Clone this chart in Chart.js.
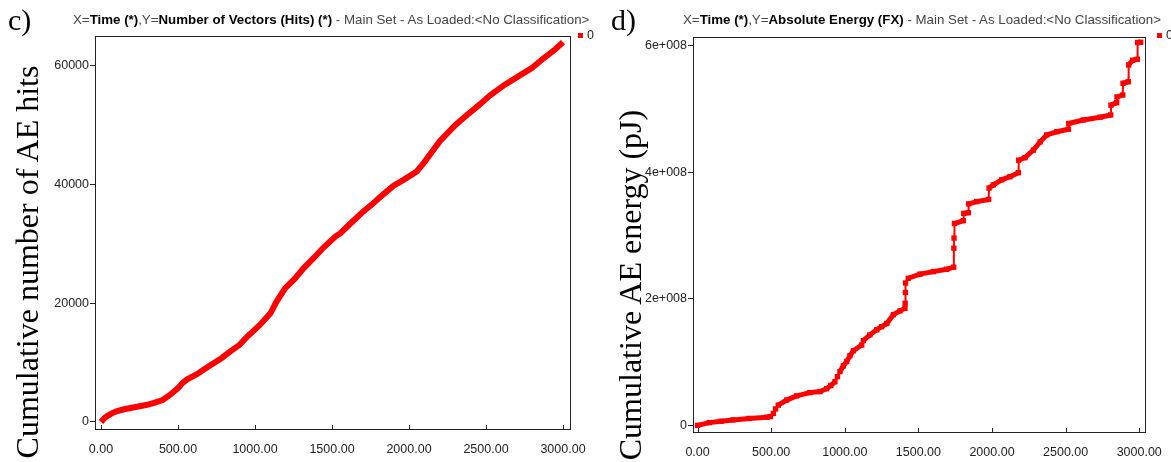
<!DOCTYPE html>
<html>
<head>
    <title>Cumulative AE hits and energy</title>
    <style>
        body {
            margin: 0;
            width: 1171px;
            height: 462px;
            overflow: hidden;
            position: relative;
            background-color: #fff;
            font-family: "Liberation Sans", Arial, sans-serif;
        }

        .box {
            position: absolute;
            top: 0;
            height: 462px;
        }

        .panel-tag {
            position: absolute;
            font-family: "Liberation Serif", "Times New Roman", serif;
            font-size: 30px;
            line-height: 30px;
            color: #000;
        }

        .head {
            position: absolute;
            top: 13px;
            font-size: 13.3px;
            line-height: 14px;
            color: #444;
            white-space: nowrap;
        }

        .head b {
            color: #000;
        }

        .ytitle {
            position: absolute;
            font-family: "Liberation Serif", "Times New Roman", serif;
            font-size: 32px;
            white-space: nowrap;
            transform: translate(-50%, -50%) rotate(-90deg);
        }

        .key {
            position: absolute;
            width: 5px;
            height: 5px;
            background-color: #ff0000;
        }

        .keytext {
            position: absolute;
            font-size: 12.5px;
            line-height: 14px;
            color: #222;
        }
    </style>
    <script src="https://cdn.jsdelivr.net/npm/chart.js"></script>
</head>
<body>
    <div class="box" style="left:0; width:600px;"><canvas id="hitsChart"></canvas></div>
    <div class="box" style="left:600px; width:571px;"><canvas id="energyChart"></canvas></div>

    <div class="panel-tag" style="left:8px; top:5px;">c)</div>
    <div class="panel-tag" style="left:611px; top:5px;">d)</div>

    <div class="head" style="left:73px;">X=<b>Time (*)</b>,Y=<b>Number of Vectors (Hits) (*)</b> - Main Set - As Loaded:&lt;No Classification&gt;</div>
    <div class="head" style="left:683px;">X=<b>Time (*)</b>,Y=<b>Absolute Energy (FX)</b> - Main Set - As Loaded:&lt;No Classification&gt;</div>

    <div class="key" style="left:578px; top:33px;"></div>
    <div class="keytext" style="left:587px; top:28px;">0</div>
    <div class="key" style="left:1157px; top:33px;"></div>
    <div class="keytext" style="left:1166px; top:28px;">0</div>

    <div class="ytitle" style="left:27px; top:262px;">Cumulative number of AE hits</div>
    <div class="ytitle" style="left:630px; top:285px;">Cumulative AE energy (pJ)</div>

    <script>
        // panel c: cumulative hits
        var hitsTime = [0, 20, 40, 70, 100, 150, 200, 250, 300, 350, 400, 450, 500, 530, 560, 620, 700, 780, 840, 900,
            950, 1030, 1100, 1140, 1195, 1260, 1315, 1380, 1445, 1520, 1555, 1630, 1700, 1770, 1835, 1900, 1965, 2050,
            2100, 2200, 2300, 2375, 2450, 2525, 2620, 2720, 2800, 2870, 2950, 3000];
        var hits = [0, 600, 1000, 1450, 1800, 2150, 2400, 2650, 2900, 3250, 3700, 4600, 5700, 6600, 7200, 8000, 9400,
            10700, 11900, 13000, 14400, 16300, 18300, 20300, 22500, 24200, 25900, 27600, 29400, 31200, 31800, 33700,
            35400, 36900, 38400, 39800, 40800, 42200, 43800, 47300, 50000, 51700, 53300, 55000, 56800, 58400, 59700,
            61200, 62800, 64000];

        // panel d: cumulative absolute energy (pJ)
        var energyTime = [0, 80, 160, 240, 350, 470, 495, 515, 530, 548, 605, 673, 763, 831, 877, 905, 933, 950, 967,
            990, 1013, 1035, 1058, 1115, 1126, 1170, 1217, 1250, 1285, 1330, 1375, 1409, 1410, 1412, 1413, 1431, 1511,
            1601, 1692, 1740, 1741, 1742, 1745, 1805, 1808, 1839, 1841, 1896, 1977, 1980, 2009, 2066, 2122, 2179, 2181,
            2224, 2281, 2327, 2372, 2440, 2519, 2521, 2620, 2734, 2806, 2808, 2847, 2849, 2888, 2890, 2926, 2928, 2956,
            2987, 2989, 3010];
        var energy = [0, 4.4e6, 6.5e6, 8.7e6, 11e6, 13e6, 14e6, 19e6, 26e6, 32e6, 40e6, 46.6e6, 51.8e6, 53.4e6, 58e6,
            63e6, 69e6, 77e6, 85e6, 94e6, 101e6, 110e6, 118e6, 127e6, 134e6, 143e6, 151e6, 156e6, 161e6, 175e6, 181e6,
            185e6, 193e6, 210e6, 225e6, 232.5e6, 239e6, 243e6, 246.7e6, 250e6, 280e6, 296e6, 319e6, 323.5e6, 335e6,
            336e6, 350e6, 353.6e6, 357e6, 375e6, 380e6, 388e6, 393e6, 399.4e6, 419e6, 423e6, 435e6, 448e6, 459e6,
            464e6, 468e6, 477e6, 482.6e6, 487e6, 490.5e6, 506e6, 510e6, 519e6, 522e6, 540.6e6, 543e6, 569.5e6, 577e6,
            578.5e6, 605e6, 605.4e6];

        var timeTicks = [0, 500, 1000, 1500, 2000, 2500, 3000];
        var timeLabels = ['0.00', '500.00', '1000.00', '1500.00', '2000.00', '2500.00', '3000.00'];
        var hitsTicks = [0, 20000, 40000, 60000];
        var hitsLabels = ['0', '20000', '40000', '60000'];
        var energyTicks = [0, 2e8, 4e8, 6e8];
        var energyLabels = ['0', '2e+008', '4e+008', '6e+008'];

        var tickFont = { family: '"Liberation Sans", Arial, sans-serif', size: 12.5 };

        // plot frame and the little inward ticks on the time axis
        var framePlugin = {
            id: 'frame',
            beforeDatasetsDraw: function(chart) {
                var ctx = chart.ctx;
                var a = chart.chartArea;
                var x = chart.scales.x;
                ctx.save();
                ctx.strokeStyle = '#222';
                ctx.lineWidth = 1;
                ctx.strokeRect(a.left + 0.5, a.top + 0.5, a.right - a.left - 1, a.bottom - a.top - 1);
                ctx.beginPath();
                x.ticks.forEach(function(t) {
                    var px = Math.round(x.getPixelForValue(t.value)) + 0.5;
                    ctx.moveTo(px, a.bottom);
                    ctx.lineTo(px, a.bottom - 5);
                });
                ctx.stroke();
                ctx.restore();
            }
        };

        function makeChart(canvasId, times, values, opts) {
            var points = times.map(function(t, i) { return { x: t, y: values[i] }; });
            return new Chart(document.getElementById(canvasId), {
                type: 'line',
                data: {
                    datasets: [{
                        label: '0',
                        data: points,
                        borderColor: '#ff0000',
                        backgroundColor: '#ff0000',
                        borderWidth: opts.lineWidth,
                        pointStyle: 'rect',
                        pointRadius: opts.pointRadius,
                        pointBorderWidth: 0,
                        tension: 0,
                        segment: opts.segment
                    }]
                },
                options: {
                    responsive: false,
                    animation: false,
                    layout: { padding: opts.padding },
                    plugins: { legend: { display: false }, tooltip: { enabled: false } },
                    scales: {
                        x: {
                            type: 'linear',
                            min: opts.xMin,
                            max: opts.xMax,
                            grid: { display: false },
                            border: { display: false },
                            afterBuildTicks: function(scale) {
                                scale.ticks = timeTicks.map(function(v) { return { value: v }; });
                            },
                            afterFit: function(scale) { scale.height = opts.xHeight; },
                            ticks: {
                                color: '#222',
                                font: tickFont,
                                padding: 4,
                                maxRotation: 0,
                                autoSkip: false,
                                callback: function(v, i) { return timeLabels[i]; }
                            }
                        },
                        y: {
                            min: opts.yMin,
                            max: opts.yMax,
                            grid: { drawOnChartArea: false, tickLength: 5, color: '#222' },
                            border: { display: false },
                            afterBuildTicks: function(scale) {
                                scale.ticks = opts.yTicks.map(function(v) { return { value: v }; });
                            },
                            afterFit: function(scale) { scale.width = opts.yWidth; },
                            ticks: {
                                color: '#222',
                                font: tickFont,
                                padding: 1,
                                autoSkip: false,
                                callback: function(v, i) { return opts.yLabels[i]; }
                            }
                        }
                    }
                },
                plugins: [framePlugin]
            });
        }

        var hitsCanvas = document.getElementById('hitsChart');
        hitsCanvas.width = 600;
        hitsCanvas.height = 462;
        makeChart('hitsChart', hitsTime, hits, {
            lineWidth: 6,
            pointRadius: 0,
            padding: { left: 0, top: 36, right: 29, bottom: 0 },
            xMin: -39, xMax: 3052, xHeight: 32,
            yMin: -1350, yMax: 65040, yWidth: 95,
            yTicks: hitsTicks, yLabels: hitsLabels
        });

        var energyCanvas = document.getElementById('energyChart');
        energyCanvas.width = 571;
        energyCanvas.height = 462;
        makeChart('energyChart', energyTime, energy, {
            lineWidth: 5,
            pointRadius: 3.8,
            segment: {
                // the steps are drawn thin, the sloping runs look thick
                borderWidth: function(ctx) { return Math.abs(ctx.p1.x - ctx.p0.x) < 3 ? 2 : 5; }
            },
            padding: { left: 0, top: 37, right: 25, bottom: 0 },
            xMin: -31, xMax: 3046, xHeight: 29,
            yMin: -1.2e7, yMax: 6.137e8, yWidth: 93,
            yTicks: energyTicks, yLabels: energyLabels
        });
    </script>
</body>
</html>
